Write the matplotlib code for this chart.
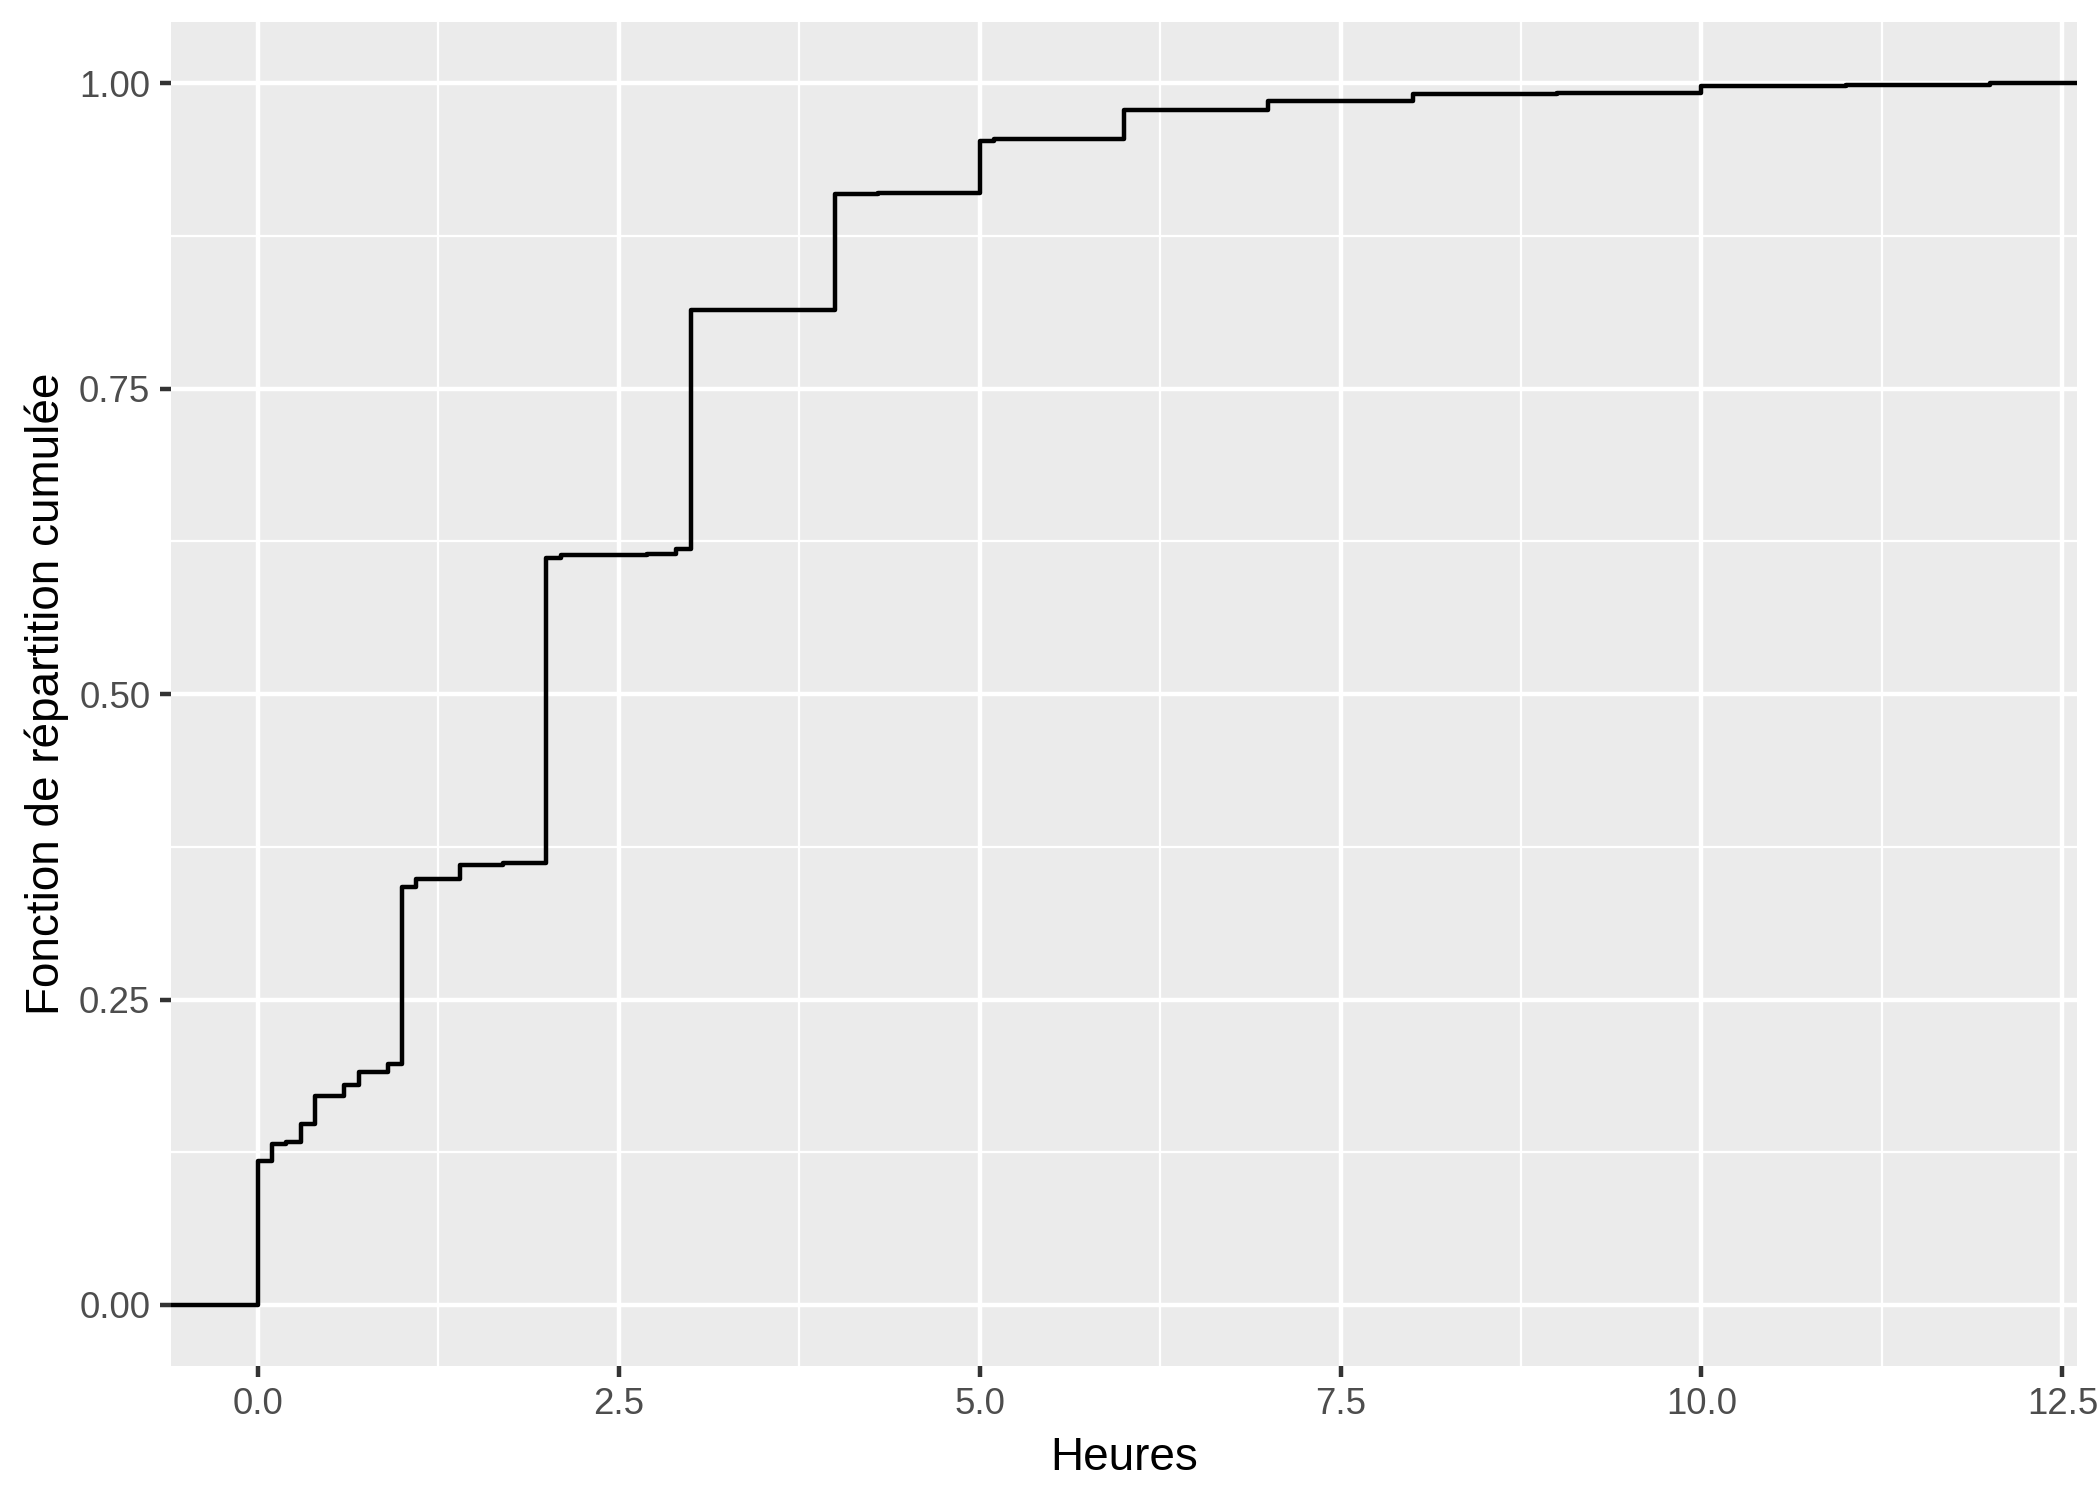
import matplotlib
matplotlib.use("Agg")
import matplotlib.pyplot as plt
import numpy as np
from matplotlib.ticker import MultipleLocator

plt.rcParams["font.family"] = ["Liberation Sans", "DejaVu Sans"]

heures = [0.0, 0.1, 0.2, 0.3, 0.4, 0.6, 0.7, 0.9, 1.0, 1.1, 1.4, 1.7, 2.0, 2.1,
          2.7, 2.9, 3.0, 4.0, 4.3, 5.0, 5.1, 6.0, 7.0, 8.0, 9.0, 10.0, 11.0, 12.0]
cumul = [0.118, 0.132, 0.133, 0.148, 0.171, 0.180, 0.191, 0.197, 0.342, 0.349,
         0.360, 0.362, 0.611, 0.614, 0.615, 0.619, 0.814, 0.909, 0.910, 0.953,
         0.954, 0.978, 0.985, 0.991, 0.992, 0.998, 0.9985, 1.0]

x_breaks = [0.0, 2.5, 5.0, 7.5, 10.0, 12.5]
x_labels = ["0.0", "2.5", "5.0", "7.5", "10.0", "12.5"]
y_breaks = [0.0, 0.25, 0.5, 0.75, 1.0]
y_labels = ["0.00", "0.25", "0.50", "0.75", "1.00"]

# ggplot-like expansion (5% of data range)
x = np.array(heures)
y = np.array(cumul)
span = x.max() - x.min()
xlim = (x.min() - 0.05 * span, x.max() + 0.05 * span)
ylim = (-0.05, 1.05)

fig = plt.figure(figsize=(7, 5), dpi=300)
ax = fig.add_axes([0.0814, 0.0893, 0.9076, 0.896])
ax.set_facecolor("#EBEBEB")
for s in ax.spines.values():
    s.set_visible(False)

ax.set_xlim(*xlim)
ax.set_ylim(*ylim)
ax.set_xticks(x_breaks)
ax.set_xticklabels(x_labels)
ax.set_yticks(y_breaks)
ax.set_yticklabels(y_labels)
ax.xaxis.set_minor_locator(MultipleLocator(1.25))
ax.yaxis.set_minor_locator(MultipleLocator(0.125))

ax.grid(which="major", color="white", linewidth=1.07)
ax.grid(which="minor", color="white", linewidth=0.53)
ax.set_axisbelow(True)
ax.tick_params(which="major", length=2.75, width=1.07, color="#333333",
               labelsize=8.8, labelcolor="#4D4D4D", pad=2.2)
ax.tick_params(which="minor", length=0)

# step function padded to the panel edges like stat_ecdf
xs = np.concatenate([[xlim[0]], x, [xlim[1]]])
ys = np.concatenate([[0.0], y, [y[-1]]])
ax.step(xs, ys, where="post", color="black", linewidth=1.07)

ax.set_xlabel("Heures", fontsize=11, color="black", labelpad=3.5)
ax.set_ylabel("Fonction de répartition cumulée", fontsize=11, color="black", labelpad=2.5)

fig.savefig("out.png", dpi=300)
